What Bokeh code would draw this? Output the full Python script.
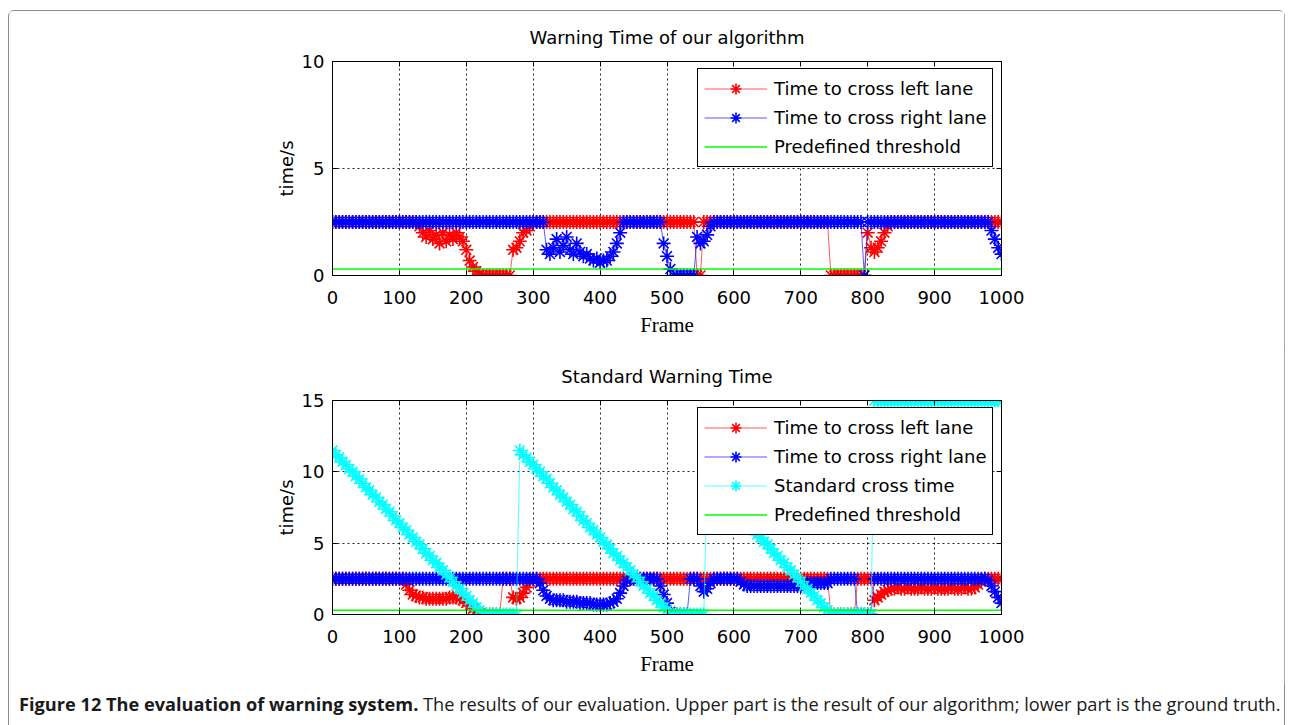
from bokeh.plotting import figure
from bokeh.models import LinearAxis, Legend, LegendItem, FixedTicker, Div, Range1d
from bokeh.layouts import column
from bokeh.embed import file_html
from bokeh.resources import INLINE

# ---------------- data (one value every 5 frames) ----------------
frames = list(range(0, 1001, 5))
x_ticks = [0, 100, 200, 300, 400, 500, 600, 700, 800, 900, 1000]
top_y_ticks = [0, 5, 10]
bottom_y_ticks = [0, 5, 10, 15]
threshold_value = 0.3

# upper chart: warning time of our algorithm
top_left = ([2.5] * 26
            + [2.3, 2.0, 1.8, 2.1, 1.7, 1.9, 1.5, 2.0, 1.6, 1.9, 1.7, 2.0, 1.8, 1.6, 1.2, 0.7, 0.4, 0.2, 0.05, 0.0]
            + [0.0] * 8
            + [1.2, 1.3, 1.6, 2.0, 2.1, 2.3]
            + [2.5] * 49
            + [0.0, 0.0]
            + [2.5] * 38
            + [0.0] * 11
            + [2.0, 1.3, 1.1, 1.3, 1.6, 2.0, 2.3]
            + [2.5] * 34)

top_right = ([2.5] * 64
             + [1.2, 1.0, 1.3, 1.7, 1.1, 1.4, 1.8, 1.2, 1.0, 1.5, 1.1, 0.9, 1.0, 0.8, 0.7, 0.8, 0.6, 0.7, 0.7, 0.9, 1.1, 1.5, 2.0]
             + [2.5] * 12
             + [1.5, 0.9, 0.3] + [0.0] * 7 + [1.8, 1.5, 1.6, 1.9, 2.3]
             + [2.5] * 45
             + [0.0]
             + [2.5] * 37
             + [2.1, 1.7, 1.3, 1.0])

# lower chart: standard warning time
bottom_left = ([2.5] * 22
               + [2.1, 1.7, 1.4, 1.3, 1.2, 1.2, 1.1, 1.1, 1.1, 1.1, 1.1, 1.1, 1.1, 1.2, 1.2, 1.2, 1.1, 1.0, 0.8, 0.6, 0.4, 0.2, 0.1]
               + [0.0] * 6
               + [2.5] * 3
               + [1.2, 1.1, 1.2, 1.5, 1.9, 2.3]
               + [2.5] * 89
               + [0.0] * 8
               + [2.5] * 5
               + [1.0, 1.2, 1.4, 1.6, 1.7, 1.8]
               + [1.8, 1.9, 1.8, 1.8, 1.9, 1.8, 1.8, 1.8, 1.9, 1.8, 1.8, 1.8, 1.9, 1.8, 1.8, 1.8, 1.8, 1.9, 1.8, 1.8, 1.8, 1.9, 1.8, 1.8]
               + [1.9, 2.1, 2.4]
               + [2.5] * 6)

bottom_right = ([2.5] * 62
                + [2.2, 1.7, 1.3, 1.1, 1.0, 1.0, 1.0, 1.0, 0.9, 0.9, 0.9, 0.9, 0.8, 0.8, 0.8, 0.8, 0.7, 0.7, 0.7, 0.7, 0.7, 0.8, 0.9, 1.1, 1.5, 2.0, 2.4]
                + [2.5] * 9
                + [2.0, 1.4, 0.8, 0.2]
                + [0.0] * 5
                + [2.5] * 3
                + [2.0, 1.6, 1.8, 2.2]
                + [2.5] * 8
                + [2.3, 2.1] + [2.0] * 17 + [2.1] + [2.2] * 7
                + [2.5] * 8
                + [0.0] * 5
                + [2.5] * 34
                + [2.4, 2.0, 1.6, 1.2, 0.8])

std_ramp_1 = [11.5, 11.2, 11.0, 10.7, 10.5, 10.2, 10.0, 9.7, 9.5, 9.2, 8.9, 8.7, 8.4, 8.2, 7.9, 7.7,
              7.4, 7.2, 6.9, 6.6, 6.4, 6.1, 5.9, 5.6, 5.4, 5.1, 4.9, 4.6, 4.3, 4.1, 3.8, 3.6, 3.3,
              3.1, 2.8, 2.6, 2.3, 2.0, 1.8, 1.5, 1.3, 1.0, 0.8, 0.5, 0.3, 0.0]
std_ramp_2 = [11.5, 11.2, 11.0, 10.7, 10.5, 10.2, 10.0, 9.7, 9.5, 9.2, 8.9, 8.7, 8.4, 8.2, 7.9, 7.7,
              7.4, 7.2, 6.9, 6.6, 6.4, 6.1, 5.9, 5.6, 5.4, 5.1, 4.9, 4.6, 4.3, 4.1, 3.8, 3.6, 3.3,
              3.1, 2.8, 2.6, 2.3, 2.0, 1.8, 1.5, 1.3, 1.0, 0.8, 0.5, 0.3, 0.0]
std_ramp_3 = [9.5, 9.2, 8.9, 8.7, 8.4, 8.2, 7.9, 7.7, 7.4, 7.2, 6.9, 6.6, 6.4, 6.1, 5.9, 5.6, 5.4,
              5.1, 4.9, 4.6, 4.3, 4.1, 3.8, 3.6, 3.3, 3.1, 2.8, 2.6, 2.3, 2.0, 1.8, 1.5, 1.3, 1.0,
              0.8, 0.5, 0.3, 0.0]
standard_cross = (std_ramp_1 + [0.0] * 10 + std_ramp_2 + [0.0] * 10 + std_ramp_3
                  + [0.0] * 12 + [15.0] * 39)

threshold = [threshold_value] * len(frames)

# ---------------- styling ----------------
SANS = "DejaVu Sans"
SERIF = "Liberation Serif"
RED, BLUE, CYAN, GREEN = "#FF0000", "#0000FF", "#00FFFF", "#00FF00"


def make_fig(title, y_max, y_ticks, top_border):
    p = figure(frame_width=671, frame_height=214,
               x_range=Range1d(0, 1000), y_range=Range1d(0, y_max),
               output_backend="svg", toolbar_location=None,
               min_border_left=323, min_border_right=283,
               min_border_top=top_border, min_border_bottom=70,
               x_axis_label="Frame", y_axis_label="time/s")
    p.title.text = title
    p.title.align = "center"
    p.title.text_font = SANS
    p.title.text_font_size = "18px"
    p.title.text_font_style = "normal"
    p.title.text_color = "black"
    p.title.standoff = 27
    p.outline_line_color = "black"
    p.outline_line_width = 1
    p.outline_line_alpha = 1

    p.xaxis.ticker = FixedTicker(ticks=x_ticks)
    p.yaxis.ticker = FixedTicker(ticks=y_ticks)
    for ax in list(p.xaxis) + list(p.yaxis):
        ax.major_tick_in = 5
        ax.major_tick_out = 0
        ax.minor_tick_in = 0
        ax.minor_tick_out = 0
        ax.axis_line_color = "black"
        ax.major_tick_line_color = "black"
        ax.major_label_text_font = SANS
        ax.major_label_text_font_size = "18px"
        ax.major_label_text_color = "black"
        ax.axis_label_text_color = "black"
        ax.axis_label_text_font_style = "normal"
    p.xaxis.major_label_standoff = 15
    p.yaxis.major_label_standoff = 8
    p.xaxis.axis_label_text_font = SERIF
    p.xaxis.axis_label_text_font_size = "21px"
    p.xaxis.axis_label_standoff = 6
    p.yaxis.axis_label_text_font = SANS
    p.yaxis.axis_label_text_font_size = "18px"
    p.yaxis.axis_label_standoff = 2

    top_ax = LinearAxis(ticker=FixedTicker(ticks=x_ticks), major_tick_in=5, major_tick_out=0,
                        minor_tick_in=0, minor_tick_out=0, major_label_text_font_size="5px",
                        major_label_text_color=None, major_label_standoff=0,
                        axis_line_color="black")
    right_ax = LinearAxis(ticker=FixedTicker(ticks=y_ticks), major_tick_in=5, major_tick_out=0,
                          minor_tick_in=0, minor_tick_out=0, major_label_text_font_size="5px",
                          major_label_text_color=None, major_label_standoff=0,
                          axis_line_color="black")
    p.add_layout(top_ax, "above")
    p.add_layout(right_ax, "right")

    p.xgrid.ticker = FixedTicker(ticks=x_ticks)
    p.ygrid.ticker = FixedTicker(ticks=y_ticks)
    p.grid.grid_line_color = "black"
    p.grid.grid_line_dash = "2 3"
    p.grid.grid_line_alpha = 0.85
    return p


def series(p, y, color):
    ln = p.line(frames, y, line_color=color, line_width=1, line_alpha=0.65)
    pts = p.scatter(frames, y, marker="asterisk", size=14, line_color=color, line_width=1.6)
    return [ln, pts]


def add_legend(p, items, loc):
    lg = Legend(items=[LegendItem(label=l, renderers=r) for l, r in items], location=loc)
    lg.border_line_color = "black"
    lg.border_line_width = 1
    lg.border_line_alpha = 1
    lg.background_fill_color = "white"
    lg.background_fill_alpha = 1
    lg.label_text_font = SANS
    lg.label_text_font_size = "18px"
    lg.label_text_color = "black"
    lg.glyph_width = 63
    lg.glyph_height = 27
    lg.label_height = 27
    lg.spacing = 2
    lg.padding = 6
    lg.label_standoff = 7
    lg.margin = 0
    p.add_layout(lg)


# upper chart
p1 = make_fig("Warning Time of our algorithm", 10, top_y_ticks, 50)
r1 = series(p1, top_left, RED)
b1 = series(p1, top_right, BLUE)
g1 = p1.line(frames, threshold, line_color=GREEN, line_width=1.5)
add_legend(p1, [("Time to cross left lane", r1), ("Time to cross right lane", b1),
                ("Predefined threshold", [g1])], (365, 108))

# lower chart
p2 = make_fig("Standard Warning Time", 15, bottom_y_ticks, 55)
r2 = series(p2, bottom_left, RED)
b2 = series(p2, bottom_right, BLUE)
c2 = series(p2, standard_cross, CYAN)
g2 = p2.line(frames, threshold, line_color=GREEN, line_width=1.5)
add_legend(p2, [("Time to cross left lane", r2), ("Time to cross right lane", b2),
                ("Standard cross time", c2), ("Predefined threshold", [g2])], (365, 79))

caption = Div(
    text='<span style="font-weight:700">Figure 12 The evaluation of warning system.</span> '
         'The results of our evaluation. Upper part is the result of our algorithm; '
         'lower part is the ground truth.',
    width=1270, height=38,
    styles={"font-family": "Open Sans", "font-size": "18.2px", "color": "#1a1a1a",
            "padding-left": "5px", "padding-top": "2px", "white-space": "nowrap"})

layout = column(p1, p2, caption, margin=(10, 0, 0, 8), width=1277,
                styles={"border": "1px solid #8c8c8c", "border-radius": "6px"})

open("out.html", "w").write(file_html(layout, INLINE))
